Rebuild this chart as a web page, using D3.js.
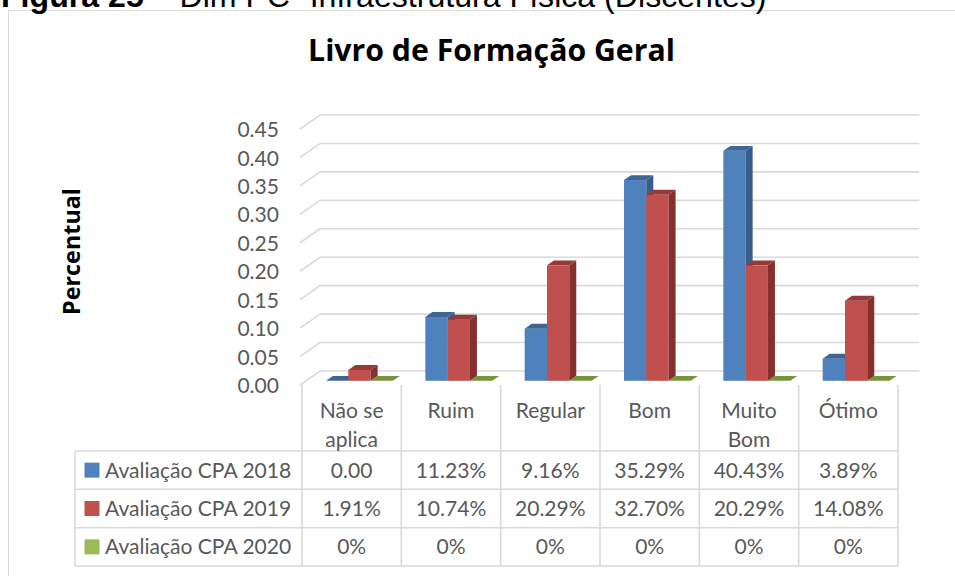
<!DOCTYPE html>
<html><head><meta charset="utf-8">
<script src="https://cdn.jsdelivr.net/npm/d3@7"></script>
<style>html,body{margin:0;padding:0;background:#fff;overflow:hidden}</style>
</head><body>
<svg id="chart" width="955" height="576"></svg>
<script>
const captionBold = "Figura 25";
const captionRest = " – Dim PC- Infraestrutura Física (Discentes)";
const chartTitle = "Livro de Formação Geral";
const yAxisTitle = "Percentual";
const categories = ["Não se aplica", "Ruim", "Regular", "Bom", "Muito Bom", "Ótimo"];
const categoryLines = [["Não se", "aplica"], ["Ruim"], ["Regular"], ["Bom"], ["Muito", "Bom"], ["Ótimo"]];
const seriesNames = ["Avaliação CPA 2018", "Avaliação CPA 2019", "Avaliação CPA 2020"];
const values2018 = [0.0000, 0.1123, 0.0916, 0.3529, 0.4043, 0.0389];
const values2019 = [0.0191, 0.1074, 0.2029, 0.3270, 0.2029, 0.1408];
const values2020 = [0, 0, 0, 0, 0, 0];
const labels2018 = ["0.00", "11.23%", "9.16%", "35.29%", "40.43%", "3.89%"];
const labels2019 = ["1.91%", "10.74%", "20.29%", "32.70%", "20.29%", "14.08%"];
const labels2020 = ["0%", "0%", "0%", "0%", "0%", "0%"];
const yTicks = [0, 0.05, 0.10, 0.15, 0.20, 0.25, 0.30, 0.35, 0.40, 0.45];

const seriesValues = [values2018, values2019, values2020];
const seriesLabels = [labels2018, labels2019, labels2020];
const frontColors = ["#4f81bd", "#c0504d", "#9bbb59"];
const sideColors = ["#375d8b", "#86302e", "#6e8a36"];
const topColors = ["#3d6697", "#973a37", "#77933c"];

const svg = d3.select("#chart");
const FONT = "Lato, 'Open Sans', sans-serif";
const BOLDFONT = "'Open Sans', Lato, sans-serif";
const textGray = "#595959";
const gridColor = "#d9d9d9";

function measure(str, family, weight, size) {
  const t = svg.append("text").attr("font-family", family).attr("font-weight", weight)
    .attr("font-size", size).text(str);
  const w = t.node().getComputedTextLength();
  t.remove();
  return w;
}
const fs = 41.6 / measure("0.45", FONT, "normal", 100) * 100;

// frame
svg.append("rect").attr("x", 8.5).attr("y", 10.5).attr("width", 1000).attr("height", 600)
  .attr("fill", "none").attr("stroke", "#d9d9d9").attr("stroke-width", 1);

// caption (clipped at top)
const capFamily = "'Liberation Sans', Arial, sans-serif";
const capW = measure(captionBold, capFamily, "bold", 100) + measure(captionRest, capFamily, "normal", 100);
const capFs = 757 / capW * 100;
const cap = svg.append("text").attr("x", 1).attr("y", 7).attr("font-family", capFamily)
  .attr("font-size", capFs).attr("fill", "#000");
cap.append("tspan").attr("font-weight", "bold").text(captionBold);
cap.append("tspan").text(captionRest);

// title
const titleFs = 367 / measure(chartTitle, BOLDFONT, "bold", 100) * 100;
svg.append("text").attr("x", 491.5).attr("y", 61).attr("text-anchor", "middle")
  .attr("font-family", BOLDFONT).attr("font-weight", "bold").attr("font-size", titleFs)
  .attr("fill", "#000").text(chartTitle);

// y axis title
const yTitleFs = 127 / measure(yAxisTitle, BOLDFONT, "bold", 100) * 100;
svg.append("text").attr("transform", "translate(80,251.5) rotate(-90)")
  .attr("text-anchor", "middle").attr("font-family", BOLDFONT).attr("font-weight", "bold")
  .attr("font-size", yTitleFs).attr("fill", "#000").text(yAxisTitle);

// scales
const y = d3.scaleLinear().domain([0, 0.45]).range([385, 129]);
const x = d3.scaleBand().domain(categories).range([302, 898]).paddingInner(0).paddingOuter(0);
const DX = 20, DY = -14;
const d0 = 0.3, d1 = 0.65;
const wallLeft = 300, wallRight = 919;
const barOffset = 18, barW = 22.3;

// gridlines: side wall diagonal + back wall
const grid = svg.append("g");
yTicks.forEach(v => {
  grid.append("path")
    .attr("d", `M${wallLeft},${y(v)} L${wallLeft + DX},${y(v) + DY} L${wallRight},${y(v) + DY}`)
    .attr("fill", "none").attr("stroke", gridColor).attr("stroke-width", 1.6);
});

// y tick labels
const axisG = svg.append("g").attr("transform", "translate(279,0)")
  .call(d3.axisLeft(y).tickValues(yTicks).tickFormat(d3.format(".2f")).tickSize(0).tickPadding(0));
axisG.select(".domain").remove();
axisG.selectAll("text").attr("font-family", FONT).attr("font-size", fs).attr("fill", textGray)
  .attr("dy", "0.36em");

// bars
const barsG = svg.append("g");
categories.forEach((c, ci) => {
  seriesValues.forEach((vals, si) => {
    const v = vals[ci];
    const fx0 = x(c) + barOffset + si * barW + d0 * DX;
    const fx1 = fx0 + barW;
    const yb = y(0) + d0 * DY;
    const yt = y(v) + d0 * DY;
    const ddx = (d1 - d0) * DX, ddy = (d1 - d0) * DY;
    const g = barsG.append("g");
    if (yb - yt > 0.5) {
      g.append("rect").attr("x", fx0).attr("y", yt).attr("width", barW).attr("height", yb - yt)
        .attr("fill", frontColors[si]);
      g.append("path").attr("d", `M${fx1},${yt} L${fx1 + ddx},${yt + ddy} L${fx1 + ddx},${yb + ddy} L${fx1},${yb} Z`)
        .attr("fill", sideColors[si]);
    }
    g.append("path").attr("d", `M${fx0},${yt} L${fx1},${yt} L${fx1 + ddx},${yt + ddy} L${fx0 + ddx},${yt + ddy} Z`)
      .attr("fill", topColors[si]);
  });
});

// data table
const tableG = svg.append("g");
const rowTops = [451, 489.3, 527.7, 566];
const headerTop = 385;
const tableLeft = 75;
const colEdges = categories.map(c => x(c)).concat([x.range()[1]]);
const lineAttr = s => s.attr("stroke", gridColor).attr("stroke-width", 1.6);
colEdges.forEach(xe => lineAttr(tableG.append("line").attr("x1", xe).attr("x2", xe).attr("y1", headerTop).attr("y2", rowTops[3])));
lineAttr(tableG.append("line").attr("x1", tableLeft).attr("x2", tableLeft).attr("y1", rowTops[0]).attr("y2", rowTops[3]));
rowTops.forEach(ry => lineAttr(tableG.append("line").attr("x1", tableLeft).attr("x2", x.range()[1]).attr("y1", ry).attr("y2", ry)));

categories.forEach((c, ci) => {
  categoryLines[ci].forEach((ln, li) => {
    tableG.append("text").attr("x", x(c) + x.bandwidth() / 2).attr("y", 410.7 + li * 28.3)
      .attr("dy", "0.36em").attr("text-anchor", "middle").attr("font-family", FONT)
      .attr("font-size", fs).attr("fill", textGray).text(ln);
  });
});

seriesNames.forEach((name, si) => {
  const cy = (rowTops[si] + rowTops[si + 1]) / 2;
  tableG.append("rect").attr("x", 84.5).attr("y", cy - 7.5).attr("width", 15).attr("height", 15)
    .attr("fill", frontColors[si]);
  tableG.append("text").attr("x", 105).attr("y", cy).attr("dy", "0.36em")
    .attr("font-family", FONT).attr("font-size", fs).attr("fill", textGray).text(name);
  categories.forEach((c, ci) => {
    tableG.append("text").attr("x", x(c) + x.bandwidth() / 2).attr("y", cy).attr("dy", "0.36em")
      .attr("text-anchor", "middle").attr("font-family", FONT).attr("font-size", fs)
      .attr("fill", textGray).text(seriesLabels[si][ci]);
  });
});
</script>
</body></html>
